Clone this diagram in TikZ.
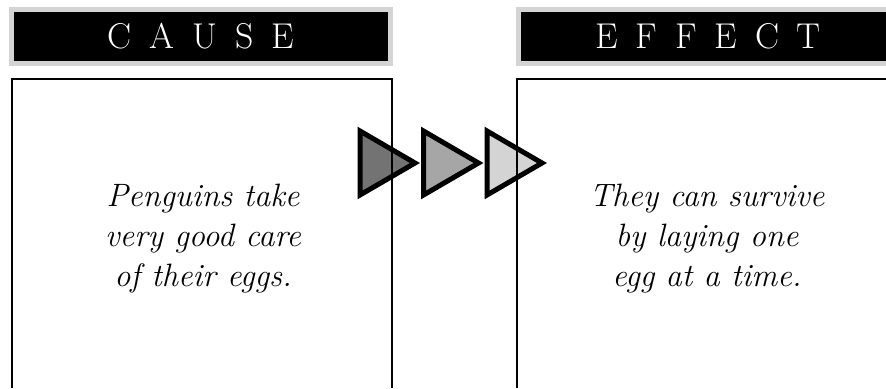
\documentclass[tikz,border=0pt]{standalone}
\usepackage{tikz}
\usetikzlibrary{positioning}

\newcommand{\lsp}{\hspace{0.5em}}

\begin{document}
\begin{tikzpicture}[
  x=0.025cm, y=-0.025cm,
  header/.style={fill=black, draw=black!17, line width=0.125cm,
                 minimum width=9.45cm, minimum height=1.35cm, inner sep=0pt,
                 text=white, font=\fontsize{25.5}{25.5}\selectfont},
  body/.style={align=center, inner sep=0pt,
               font=\fontsize{23}{28.45}\selectfont\itshape},
  frame/.style={line width=0.05cm},
  arrowtri/.style={draw=black, line width=0.125cm, line join=miter},
]
  \useasboundingbox (0,0) rectangle (886,388);

  % header bars
  \node[header] (cause)  at (201,36.5) {C\lsp A\lsp U\lsp S\lsp E};
  \node[header] (effect) at (708,36.5) {E\lsp F\lsp F\lsp E\lsp C\lsp T};

  % three arrow heads between the boxes
  \foreach \i/\shade in {0/55, 1/35, 2/17}
    \draw[arrowtri, fill=black!\shade]
      (360+63.5*\i,131) -- (415+63.5*\i,163) -- (360+63.5*\i,195) -- cycle;

  % open boxes
  \draw[frame] (12,388) |- (392,79) -- (392,388);
  \draw[frame] (517,388) |- (886,79);

  \node[body] (causetext)  at (203,239) {Penguins take\\very good care\\of their eggs.};
  \node[body] (effecttext) at (707,239) {They can survive\\by laying one\\egg at a time.};
\end{tikzpicture}
\end{document}
